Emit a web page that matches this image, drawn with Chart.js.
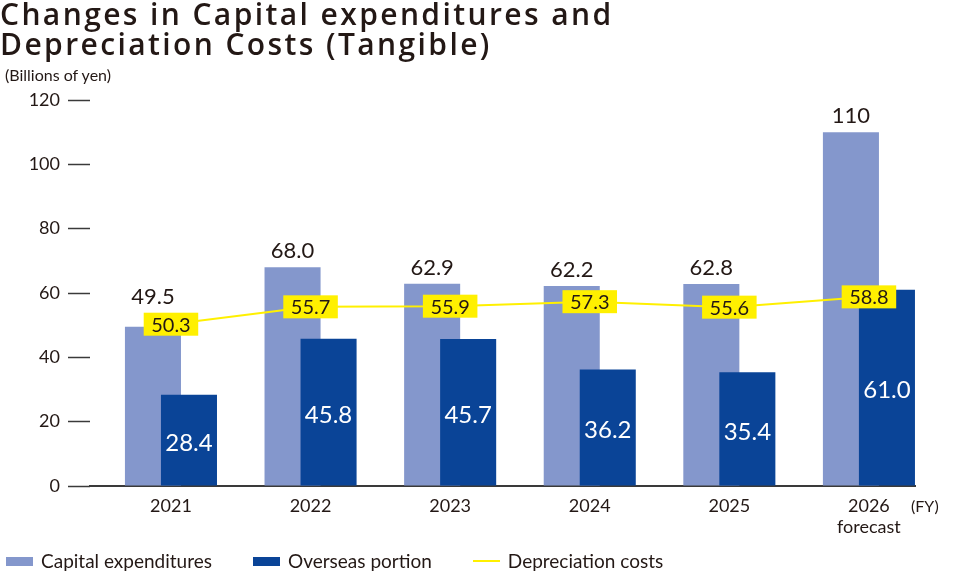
<!DOCTYPE html>
<html><head><meta charset="utf-8">
<script src="https://cdn.jsdelivr.net/npm/chart.js@4.4.1/dist/chart.umd.min.js"></script>
<style>
html,body{margin:0;padding:0;background:#fff;}
#wrap{position:relative;width:956px;height:575px;overflow:hidden;font-family:Lato,'Open Sans',sans-serif;color:#231815;}
#c{position:absolute;left:0;top:0;}
#title{position:absolute;left:0;top:-1px;font-family:'Open Sans',sans-serif;font-size:30px;font-weight:600;line-height:29.5px;letter-spacing:2.4px;margin:0;white-space:nowrap;}
#unit{position:absolute;left:5px;top:65px;font-size:16px;}
#fy{position:absolute;left:911px;top:496px;font-size:16px;}
#legend{position:absolute;left:6px;top:550px;display:flex;align-items:center;font-size:19px;line-height:22px;}
.li{display:flex;align-items:center;margin-right:41px;}
.sw{width:27px;height:9px;margin-right:8px;}
.ln{width:27px;height:2px;margin-right:8px;}
</style></head><body>
<div id="wrap">
<canvas id="c" width="956" height="575"></canvas>
<h1 id="title">Changes in Capital expenditures and<br>Depreciation Costs (Tangible)</h1>
<div id="unit">(Billions of yen)</div>
<div id="fy">(FY)</div>
<div id="legend"></div>
</div>
<script>
// ---- data ----
const years = ['2021', '2022', '2023', '2024', '2025', '2026'];
const yearNotes = ['', '', '', '', '', 'forecast'];
const capex = [49.5, 68.0, 62.9, 62.2, 62.8, 110];
const overseas = [28.4, 45.8, 45.7, 36.2, 35.4, 61.0];
const depreciation = [50.3, 55.7, 55.9, 57.3, 55.6, 58.8];
const yMin = 0, yMax = 120, yStep = 20;
const seriesNames = ['Capital expenditures', 'Overseas portion', 'Depreciation costs'];

// ---- styles ----
const C_LIGHT = '#8497CC';
const C_DARK = '#0A4497';
const C_YELLOW = '#FFF000';
const C_TEXT = '#231815';
const FONT = 'Lato, "Open Sans", sans-serif';

const fmt = v => v >= 100 ? v.toFixed(0) : v.toFixed(1);
const pts = arr => arr.map((v, i) => ({x: i, y: v}));

const drawOrder = {
  id: 'drawOrder',
  beforeDatasetsDraw(chart) {
    chart.data.datasets.forEach((d, i) => {
      const m = chart.getDatasetMeta(i);
      if (!m.hidden) m.controller.draw();
    });
    return false;
  }
};

const valueLabels = {
  id: 'valueLabels',
  afterDraw(chart) {
    const ctx = chart.ctx;
    const m0 = chart.getDatasetMeta(0), m1 = chart.getDatasetMeta(1), m2 = chart.getDatasetMeta(2);
    ctx.save();
    ctx.textAlign = 'center';
    ctx.textBaseline = 'middle';
    const boxes = [];
    ctx.font = '20px ' + FONT;
    m2.data.forEach((p, i) => {
      const t = fmt(depreciation[i]);
      const w = ctx.measureText(t).width + 15, h = 23;
      boxes.push({l: p.x - w / 2, r: p.x + w / 2, t: p.y - h / 2, b: p.y + h / 2, x: p.x, y: p.y, text: t});
    });
    ctx.font = '22px ' + FONT;
    ctx.fillStyle = C_TEXT;
    m0.data.forEach((b, i) => {
      const t = fmt(capex[i]);
      const w = ctx.measureText(t).width;
      let y = b.y - 16;
      boxes.forEach(bx => {
        if (b.x + w / 2 > bx.l && b.x - w / 2 < bx.r && y + 9 > bx.t && y - 9 < bx.b) {
          y = Math.min(y, bx.t - 16);
        }
      });
      ctx.fillText(t, b.x, y);
    });
    ctx.font = '24px ' + FONT;
    ctx.fillStyle = '#ffffff';
    m1.data.forEach((b, i) => {
      ctx.fillText(fmt(overseas[i]), b.x, (b.y + b.base) / 2 + 3);
    });
    ctx.font = '20px ' + FONT;
    boxes.forEach(bx => {
      ctx.fillStyle = C_YELLOW;
      ctx.fillRect(bx.l, bx.t, bx.r - bx.l, bx.b - bx.t);
      ctx.fillStyle = C_TEXT;
      ctx.fillText(bx.text, bx.x, bx.y + 1);
    });
    ctx.restore();
  }
};

Chart.defaults.font.family = FONT;
Chart.defaults.color = C_TEXT;

const chart = new Chart(document.getElementById('c'), {
  type: 'bar',
  data: {
    datasets: [
      {label: seriesNames[0], data: pts(capex), backgroundColor: C_LIGHT, borderWidth: 0,
       categoryPercentage: 0.516, barPercentage: 1.556},
      {label: seriesNames[1], data: pts(overseas), backgroundColor: C_DARK, borderWidth: 0,
       categoryPercentage: 0.516, barPercentage: 1.556},
      {label: seriesNames[2], type: 'line', data: pts(depreciation), borderColor: C_YELLOW,
       backgroundColor: C_YELLOW, borderWidth: 2, pointRadius: 0, tension: 0}
    ]
  },
  options: {
    responsive: false,
    animation: false,
    devicePixelRatio: 1,
    layout: {padding: {top: 100, right: 41, bottom: 0, left: 0}},
    plugins: {legend: {display: false}, tooltip: {enabled: false}, title: {display: false}},
    scales: {
      x: {
        type: 'linear',
        offset: false,
        min: -0.58, max: 5.33,
        afterFit(s) { s.height = 89; },
        border: {display: true, color: '#3a3a3a', width: 2},
        grid: {display: false, drawTicks: false, offset: false},
        ticks: {
          stepSize: 1, includeBounds: false, autoSkip: false, maxRotation: 0, padding: 9,
          font: {size: 18}, color: C_TEXT,
          callback: v => (Number.isInteger(v) && years[v] !== undefined)
            ? (yearNotes[v] ? [years[v], yearNotes[v]] : years[v]) : ''
        }
      },
      y: {
        min: yMin, max: yMax,
        afterFit(s) { s.width = 90; },
        border: {display: false},
        grid: {drawOnChartArea: false, drawTicks: true, tickLength: 22, tickColor: '#3a3a3a', tickWidth: 1.5},
        ticks: {stepSize: yStep, padding: 8, font: {size: 18}, color: C_TEXT}
      }
    }
  },
  plugins: [drawOrder, valueLabels]
});

const lg = document.getElementById('legend');
chart.data.datasets.forEach(ds => {
  const it = document.createElement('div'); it.className = 'li';
  const sw = document.createElement('div');
  if (ds.type === 'line') { sw.className = 'ln'; sw.style.background = ds.borderColor; }
  else { sw.className = 'sw'; sw.style.background = ds.backgroundColor; }
  const tx = document.createElement('span'); tx.textContent = ds.label;
  it.appendChild(sw); it.appendChild(tx); lg.appendChild(it);
});
</script>
</body></html>
